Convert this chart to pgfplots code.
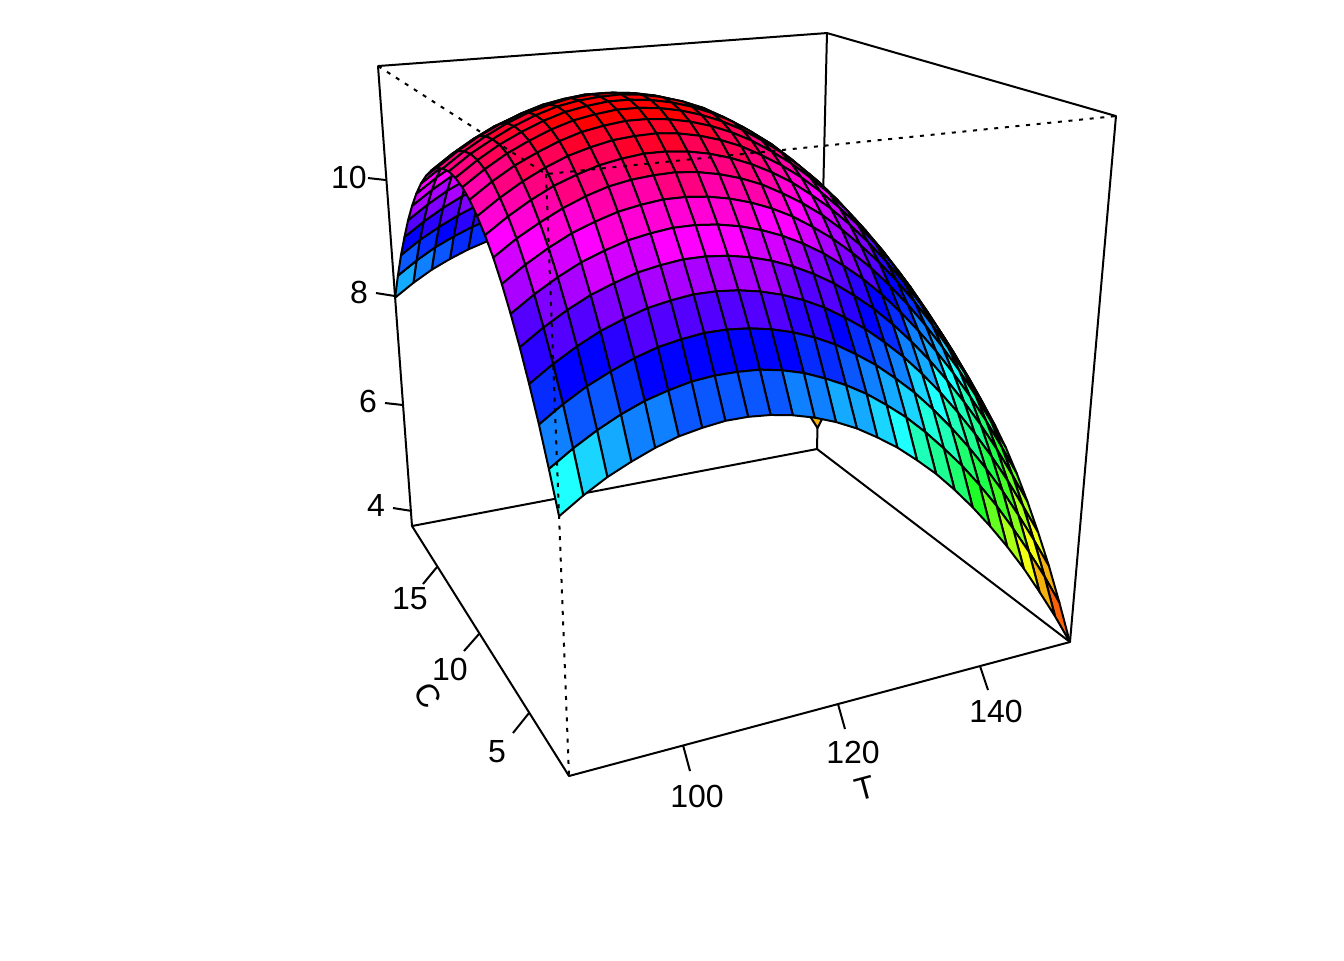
\documentclass[border=0pt]{standalone}
\usepackage{pgfplots}
\usepackage{pgfplotstable}
\usepackage{fontspec}
\setmainfont{Liberation Sans}
\pgfplotsset{compat=1.18}
% T, C and response Z; box limits T 86.4-153.6, C 1.6-18.4, Z 3.7-11.88
\pgfplotstableread{
T C Z
153.60 18.40 4.16
153.60 17.73 4.64
153.60 17.06 5.07
153.60 16.38 5.47
153.60 15.71 5.82
153.60 15.04 6.14
153.60 14.37 6.41
153.60 13.70 6.64
153.60 13.02 6.83
153.60 12.35 6.98
153.60 11.68 7.08
153.60 11.01 7.15
153.60 10.34 7.17
153.60 9.66 7.16
153.60 8.99 7.10
153.60 8.32 6.99
153.60 7.65 6.85
153.60 6.98 6.67
153.60 6.30 6.44
153.60 5.63 6.18
153.60 4.96 5.87
153.60 4.29 5.52
153.60 3.62 5.13
153.60 2.94 4.70
153.60 2.27 4.22
153.60 1.60 3.70
150.91 18.40 4.68
150.91 17.73 5.16
150.91 17.06 5.60
150.91 16.38 5.99
150.91 15.71 6.35
150.91 15.04 6.66
150.91 14.37 6.93
150.91 13.70 7.17
150.91 13.02 7.35
150.91 12.35 7.50
150.91 11.68 7.61
150.91 11.01 7.67
150.91 10.34 7.70
150.91 9.66 7.68
150.91 8.99 7.62
150.91 8.32 7.52
150.91 7.65 7.38
150.91 6.98 7.19
150.91 6.30 6.97
150.91 5.63 6.70
150.91 4.96 6.39
150.91 4.29 6.04
150.91 3.62 5.65
150.91 2.94 5.22
150.91 2.27 4.75
150.91 1.60 4.23
148.22 18.40 5.17
148.22 17.73 5.65
148.22 17.06 6.09
148.22 16.38 6.49
148.22 15.71 6.84
148.22 15.04 7.16
148.22 14.37 7.43
148.22 13.70 7.66
148.22 13.02 7.85
148.22 12.35 8.00
148.22 11.68 8.10
148.22 11.01 8.17
148.22 10.34 8.19
148.22 9.66 8.17
148.22 8.99 8.11
148.22 8.32 8.01
148.22 7.65 7.87
148.22 6.98 7.69
148.22 6.30 7.46
148.22 5.63 7.20
148.22 4.96 6.89
148.22 4.29 6.54
148.22 3.62 6.15
148.22 2.94 5.71
148.22 2.27 5.24
148.22 1.60 4.72
145.54 18.40 5.64
145.54 17.73 6.12
145.54 17.06 6.55
145.54 16.38 6.95
145.54 15.71 7.31
145.54 15.04 7.62
145.54 14.37 7.89
145.54 13.70 8.12
145.54 13.02 8.31
145.54 12.35 8.46
145.54 11.68 8.57
145.54 11.01 8.63
145.54 10.34 8.65
145.54 9.66 8.64
145.54 8.99 8.58
145.54 8.32 8.48
145.54 7.65 8.33
145.54 6.98 8.15
145.54 6.30 7.92
145.54 5.63 7.66
145.54 4.96 7.35
145.54 4.29 7.00
145.54 3.62 6.61
145.54 2.94 6.18
145.54 2.27 5.70
145.54 1.60 5.19
142.85 18.40 6.07
142.85 17.73 6.55
142.85 17.06 6.99
142.85 16.38 7.38
142.85 15.71 7.74
142.85 15.04 8.05
142.85 14.37 8.32
142.85 13.70 8.56
142.85 13.02 8.74
142.85 12.35 8.89
142.85 11.68 9.00
142.85 11.01 9.06
142.85 10.34 9.09
142.85 9.66 9.07
142.85 8.99 9.01
142.85 8.32 8.91
142.85 7.65 8.77
142.85 6.98 8.58
142.85 6.30 8.36
142.85 5.63 8.09
142.85 4.96 7.78
142.85 4.29 7.43
142.85 3.62 7.04
142.85 2.94 6.61
142.85 2.27 6.14
142.85 1.60 5.62
140.16 18.40 6.47
140.16 17.73 6.95
140.16 17.06 7.39
140.16 16.38 7.78
140.16 15.71 8.14
140.16 15.04 8.45
140.16 14.37 8.72
140.16 13.70 8.96
140.16 13.02 9.14
140.16 12.35 9.29
140.16 11.68 9.40
140.16 11.01 9.46
140.16 10.34 9.49
140.16 9.66 9.47
140.16 8.99 9.41
140.16 8.32 9.31
140.16 7.65 9.17
140.16 6.98 8.98
140.16 6.30 8.76
140.16 5.63 8.49
140.16 4.96 8.18
140.16 4.29 7.83
140.16 3.62 7.44
140.16 2.94 7.01
140.16 2.27 6.54
140.16 1.60 6.02
137.47 18.40 6.84
137.47 17.73 7.32
137.47 17.06 7.76
137.47 16.38 8.15
137.47 15.71 8.51
137.47 15.04 8.82
137.47 14.37 9.09
137.47 13.70 9.33
137.47 13.02 9.51
137.47 12.35 9.66
137.47 11.68 9.77
137.47 11.01 9.83
137.47 10.34 9.86
137.47 9.66 9.84
137.47 8.99 9.78
137.47 8.32 9.68
137.47 7.65 9.54
137.47 6.98 9.35
137.47 6.30 9.13
137.47 5.63 8.86
137.47 4.96 8.55
137.47 4.29 8.20
137.47 3.62 7.81
137.47 2.94 7.38
137.47 2.27 6.91
137.47 1.60 6.39
134.78 18.40 7.18
134.78 17.73 7.66
134.78 17.06 8.10
134.78 16.38 8.49
134.78 15.71 8.85
134.78 15.04 9.16
134.78 14.37 9.43
134.78 13.70 9.66
134.78 13.02 9.85
134.78 12.35 10.00
134.78 11.68 10.11
134.78 11.01 10.17
134.78 10.34 10.20
134.78 9.66 10.18
134.78 8.99 10.12
134.78 8.32 10.02
134.78 7.65 9.88
134.78 6.98 9.69
134.78 6.30 9.47
134.78 5.63 9.20
134.78 4.96 8.89
134.78 4.29 8.54
134.78 3.62 8.15
134.78 2.94 7.72
134.78 2.27 7.24
134.78 1.60 6.73
132.10 18.40 7.49
132.10 17.73 7.97
132.10 17.06 8.40
132.10 16.38 8.80
132.10 15.71 9.16
132.10 15.04 9.47
132.10 14.37 9.74
132.10 13.70 9.97
132.10 13.02 10.16
132.10 12.35 10.31
132.10 11.68 10.42
132.10 11.01 10.48
132.10 10.34 10.50
132.10 9.66 10.49
132.10 8.99 10.43
132.10 8.32 10.33
132.10 7.65 10.18
132.10 6.98 10.00
132.10 6.30 9.77
132.10 5.63 9.51
132.10 4.96 9.20
132.10 4.29 8.85
132.10 3.62 8.46
132.10 2.94 8.03
132.10 2.27 7.55
132.10 1.60 7.04
129.41 18.40 7.76
129.41 17.73 8.24
129.41 17.06 8.68
129.41 16.38 9.08
129.41 15.71 9.43
129.41 15.04 9.75
129.41 14.37 10.02
129.41 13.70 10.25
129.41 13.02 10.44
129.41 12.35 10.59
129.41 11.68 10.69
129.41 11.01 10.76
129.41 10.34 10.78
129.41 9.66 10.76
129.41 8.99 10.70
129.41 8.32 10.60
129.41 7.65 10.46
129.41 6.98 10.28
129.41 6.30 10.05
129.41 5.63 9.78
129.41 4.96 9.48
129.41 4.29 9.13
129.41 3.62 8.73
129.41 2.94 8.30
129.41 2.27 7.83
129.41 1.60 7.31
126.72 18.40 8.01
126.72 17.73 8.49
126.72 17.06 8.93
126.72 16.38 9.32
126.72 15.71 9.68
126.72 15.04 9.99
126.72 14.37 10.26
126.72 13.70 10.49
126.72 13.02 10.68
126.72 12.35 10.83
126.72 11.68 10.94
126.72 11.01 11.00
126.72 10.34 11.03
126.72 9.66 11.01
126.72 8.99 10.95
126.72 8.32 10.85
126.72 7.65 10.71
126.72 6.98 10.52
126.72 6.30 10.30
126.72 5.63 10.03
126.72 4.96 9.72
126.72 4.29 9.37
126.72 3.62 8.98
126.72 2.94 8.55
126.72 2.27 8.07
126.72 1.60 7.56
124.03 18.40 8.22
124.03 17.73 8.70
124.03 17.06 9.14
124.03 16.38 9.54
124.03 15.71 9.89
124.03 15.04 10.21
124.03 14.37 10.48
124.03 13.70 10.71
124.03 13.02 10.90
124.03 12.35 11.05
124.03 11.68 11.15
124.03 11.01 11.22
124.03 10.34 11.24
124.03 9.66 11.22
124.03 8.99 11.16
124.03 8.32 11.06
124.03 7.65 10.92
124.03 6.98 10.74
124.03 6.30 10.51
124.03 5.63 10.24
124.03 4.96 9.94
124.03 4.29 9.59
124.03 3.62 9.19
124.03 2.94 8.76
124.03 2.27 8.29
124.03 1.60 7.77
121.34 18.40 8.41
121.34 17.73 8.89
121.34 17.06 9.32
121.34 16.38 9.72
121.34 15.71 10.08
121.34 15.04 10.39
121.34 14.37 10.66
121.34 13.70 10.89
121.34 13.02 11.08
121.34 12.35 11.23
121.34 11.68 11.34
121.34 11.01 11.40
121.34 10.34 11.42
121.34 9.66 11.41
121.34 8.99 11.35
121.34 8.32 11.25
121.34 7.65 11.10
121.34 6.98 10.92
121.34 6.30 10.69
121.34 5.63 10.43
121.34 4.96 10.12
121.34 4.29 9.77
121.34 3.62 9.38
121.34 2.94 8.95
121.34 2.27 8.47
121.34 1.60 7.96
118.66 18.40 8.56
118.66 17.73 9.04
118.66 17.06 9.48
118.66 16.38 9.87
118.66 15.71 10.23
118.66 15.04 10.54
118.66 14.37 10.81
118.66 13.70 11.04
118.66 13.02 11.23
118.66 12.35 11.38
118.66 11.68 11.49
118.66 11.01 11.55
118.66 10.34 11.58
118.66 9.66 11.56
118.66 8.99 11.50
118.66 8.32 11.40
118.66 7.65 11.26
118.66 6.98 11.07
118.66 6.30 10.85
118.66 5.63 10.58
118.66 4.96 10.27
118.66 4.29 9.92
118.66 3.62 9.53
118.66 2.94 9.10
118.66 2.27 8.62
118.66 1.60 8.11
115.97 18.40 8.68
115.97 17.73 9.16
115.97 17.06 9.60
115.97 16.38 9.99
115.97 15.71 10.35
115.97 15.04 10.66
115.97 14.37 10.94
115.97 13.70 11.17
115.97 13.02 11.36
115.97 12.35 11.50
115.97 11.68 11.61
115.97 11.01 11.67
115.97 10.34 11.70
115.97 9.66 11.68
115.97 8.99 11.62
115.97 8.32 11.52
115.97 7.65 11.38
115.97 6.98 11.19
115.97 6.30 10.97
115.97 5.63 10.70
115.97 4.96 10.39
115.97 4.29 10.04
115.97 3.62 9.65
115.97 2.94 9.22
115.97 2.27 8.75
115.97 1.60 8.23
113.28 18.40 8.77
113.28 17.73 9.25
113.28 17.06 9.69
113.28 16.38 10.08
113.28 15.71 10.44
113.28 15.04 10.75
113.28 14.37 11.03
113.28 13.70 11.26
113.28 13.02 11.45
113.28 12.35 11.59
113.28 11.68 11.70
113.28 11.01 11.76
113.28 10.34 11.79
113.28 9.66 11.77
113.28 8.99 11.71
113.28 8.32 11.61
113.28 7.65 11.47
113.28 6.98 11.28
113.28 6.30 11.06
113.28 5.63 10.79
113.28 4.96 10.48
113.28 4.29 10.13
113.28 3.62 9.74
113.28 2.94 9.31
113.28 2.27 8.84
113.28 1.60 8.32
110.59 18.40 8.83
110.59 17.73 9.31
110.59 17.06 9.75
110.59 16.38 10.14
110.59 15.71 10.50
110.59 15.04 10.81
110.59 14.37 11.09
110.59 13.70 11.32
110.59 13.02 11.51
110.59 12.35 11.65
110.59 11.68 11.76
110.59 11.01 11.82
110.59 10.34 11.85
110.59 9.66 11.83
110.59 8.99 11.77
110.59 8.32 11.67
110.59 7.65 11.53
110.59 6.98 11.34
110.59 6.30 11.12
110.59 5.63 10.85
110.59 4.96 10.54
110.59 4.29 10.19
110.59 3.62 9.80
110.59 2.94 9.37
110.59 2.27 8.90
110.59 1.60 8.38
107.90 18.40 8.86
107.90 17.73 9.34
107.90 17.06 9.78
107.90 16.38 10.17
107.90 15.71 10.53
107.90 15.04 10.84
107.90 14.37 11.11
107.90 13.70 11.34
107.90 13.02 11.53
107.90 12.35 11.68
107.90 11.68 11.79
107.90 11.01 11.85
107.90 10.34 11.88
107.90 9.66 11.86
107.90 8.99 11.80
107.90 8.32 11.70
107.90 7.65 11.56
107.90 6.98 11.37
107.90 6.30 11.15
107.90 5.63 10.88
107.90 4.96 10.57
107.90 4.29 10.22
107.90 3.62 9.83
107.90 2.94 9.40
107.90 2.27 8.92
107.90 1.60 8.41
105.22 18.40 8.86
105.22 17.73 9.34
105.22 17.06 9.77
105.22 16.38 10.17
105.22 15.71 10.53
105.22 15.04 10.84
105.22 14.37 11.11
105.22 13.70 11.34
105.22 13.02 11.53
105.22 12.35 11.68
105.22 11.68 11.79
105.22 11.01 11.85
105.22 10.34 11.87
105.22 9.66 11.86
105.22 8.99 11.80
105.22 8.32 11.70
105.22 7.65 11.55
105.22 6.98 11.37
105.22 6.30 11.14
105.22 5.63 10.88
105.22 4.96 10.57
105.22 4.29 10.22
105.22 3.62 9.83
105.22 2.94 9.40
105.22 2.27 8.92
105.22 1.60 8.41
102.53 18.40 8.82
102.53 17.73 9.30
102.53 17.06 9.74
102.53 16.38 10.14
102.53 15.71 10.49
102.53 15.04 10.80
102.53 14.37 11.08
102.53 13.70 11.31
102.53 13.02 11.50
102.53 12.35 11.64
102.53 11.68 11.75
102.53 11.01 11.82
102.53 10.34 11.84
102.53 9.66 11.82
102.53 8.99 11.76
102.53 8.32 11.66
102.53 7.65 11.52
102.53 6.98 11.33
102.53 6.30 11.11
102.53 5.63 10.84
102.53 4.96 10.53
102.53 4.29 10.18
102.53 3.62 9.79
102.53 2.94 9.36
102.53 2.27 8.89
102.53 1.60 8.37
99.84 18.40 8.76
99.84 17.73 9.24
99.84 17.06 9.68
99.84 16.38 10.07
99.84 15.71 10.43
99.84 15.04 10.74
99.84 14.37 11.01
99.84 13.70 11.24
99.84 13.02 11.43
99.84 12.35 11.58
99.84 11.68 11.69
99.84 11.01 11.75
99.84 10.34 11.78
99.84 9.66 11.76
99.84 8.99 11.70
99.84 8.32 11.60
99.84 7.65 11.45
99.84 6.98 11.27
99.84 6.30 11.05
99.84 5.63 10.78
99.84 4.96 10.47
99.84 4.29 10.12
99.84 3.62 9.73
99.84 2.94 9.30
99.84 2.27 8.82
99.84 1.60 8.31
97.15 18.40 8.66
97.15 17.73 9.14
97.15 17.06 9.58
97.15 16.38 9.98
97.15 15.71 10.33
97.15 15.04 10.64
97.15 14.37 10.92
97.15 13.70 11.15
97.15 13.02 11.34
97.15 12.35 11.48
97.15 11.68 11.59
97.15 11.01 11.66
97.15 10.34 11.68
97.15 9.66 11.66
97.15 8.99 11.60
97.15 8.32 11.50
97.15 7.65 11.36
97.15 6.98 11.17
97.15 6.30 10.95
97.15 5.63 10.68
97.15 4.96 10.37
97.15 4.29 10.02
97.15 3.62 9.63
97.15 2.94 9.20
97.15 2.27 8.73
97.15 1.60 8.21
94.46 18.40 8.53
94.46 17.73 9.01
94.46 17.06 9.45
94.46 16.38 9.85
94.46 15.71 10.20
94.46 15.04 10.52
94.46 14.37 10.79
94.46 13.70 11.02
94.46 13.02 11.21
94.46 12.35 11.36
94.46 11.68 11.46
94.46 11.01 11.53
94.46 10.34 11.55
94.46 9.66 11.53
94.46 8.99 11.47
94.46 8.32 11.37
94.46 7.65 11.23
94.46 6.98 11.05
94.46 6.30 10.82
94.46 5.63 10.56
94.46 4.96 10.25
94.46 4.29 9.90
94.46 3.62 9.51
94.46 2.94 9.07
94.46 2.27 8.60
94.46 1.60 8.08
91.78 18.40 8.38
91.78 17.73 8.86
91.78 17.06 9.29
91.78 16.38 9.69
91.78 15.71 10.05
91.78 15.04 10.36
91.78 14.37 10.63
91.78 13.70 10.86
91.78 13.02 11.05
91.78 12.35 11.20
91.78 11.68 11.31
91.78 11.01 11.37
91.78 10.34 11.39
91.78 9.66 11.38
91.78 8.99 11.32
91.78 8.32 11.22
91.78 7.65 11.07
91.78 6.98 10.89
91.78 6.30 10.66
91.78 5.63 10.40
91.78 4.96 10.09
91.78 4.29 9.74
91.78 3.62 9.35
91.78 2.94 8.92
91.78 2.27 8.44
91.78 1.60 7.93
89.09 18.40 8.19
89.09 17.73 8.67
89.09 17.06 9.11
89.09 16.38 9.50
89.09 15.71 9.86
89.09 15.04 10.17
89.09 14.37 10.44
89.09 13.70 10.67
89.09 13.02 10.86
89.09 12.35 11.01
89.09 11.68 11.12
89.09 11.01 11.18
89.09 10.34 11.21
89.09 9.66 11.19
89.09 8.99 11.13
89.09 8.32 11.03
89.09 7.65 10.88
89.09 6.98 10.70
89.09 6.30 10.48
89.09 5.63 10.21
89.09 4.96 9.90
89.09 4.29 9.55
89.09 3.62 9.16
89.09 2.94 8.73
89.09 2.27 8.25
89.09 1.60 7.74
86.40 18.40 7.97
86.40 17.73 8.45
86.40 17.06 8.89
86.40 16.38 9.28
86.40 15.71 9.64
86.40 15.04 9.95
86.40 14.37 10.22
86.40 13.70 10.45
86.40 13.02 10.64
86.40 12.35 10.79
86.40 11.68 10.90
86.40 11.01 10.96
86.40 10.34 10.99
86.40 9.66 10.97
86.40 8.99 10.91
86.40 8.32 10.81
86.40 7.65 10.66
86.40 6.98 10.48
86.40 6.30 10.26
86.40 5.63 9.99
86.40 4.96 9.68
86.40 4.29 9.33
86.40 3.62 8.94
86.40 2.94 8.51
86.40 2.27 8.03
86.40 1.60 7.52
}\surfacedata
\newcommand\U{((\thisrow{T}-86.4)/67.2)}
\newcommand\V{((\thisrow{C}-1.6)/16.8)}
\newcommand\W{((\thisrow{Z}-3.7)/8.18)}
\newcommand\D{(1+.1608*\U+.3369*\V-.134*\W)}
\pgfplotsset{
  colormap={rb}{rgb255=(255,20,0) rgb255=(240,255,20) rgb255=(30,255,40) rgb255=(30,255,255) rgb255=(0,0,255) rgb255=(255,0,255) rgb255=(255,0,0)},
  colormap={rbq}{samples of colormap=(37 of rb)},
}
\begin{document}
\begin{tikzpicture}[x=1pt,y=1pt]
\path[use as bounding box] (0,0) rectangle (672,480);
\begin{axis}[
  at={(0pt,0pt)}, anchor=south west,
  scale only axis, width=672pt, height=480pt,
  xmin=0, xmax=1344, ymin=0, ymax=960, zmin=0, zmax=1,
  view={0}{90}, hide axis, clip=false,
  colormap name=rbq, colormap access=piecewise constant,
  point meta min=3.7, point meta max=11.88,
  every axis plot/.append style={black, line width=1pt, line join=round},
]
% back edges of the box
\addplot3[no marks] coordinates {(412,434,0)(817,511,0)(1070,318,0)};
\addplot3[no marks] coordinates {(817,511,0)(827,927,0)};
% surface, far facets first
\addplot3[surf, shader=faceted, faceted color=black, z buffer=none, mesh/rows=26, mesh/cols=26,
  line width=1pt, point meta=\thisrow{Z}]
  table[x expr={(569+672.9*\U-18.2*\V-96.2*\W)/\D},
        y expr={960-(776-30.7*\U-72.4*\V-625.4*\W)/\D},
        z expr=0] {\surfacedata};
% solid box edges
\addplot3[no marks] coordinates {(412,434,0)(569,184,0)(1070,318,0)(1116,844,0)(827,927,0)(378,894,0)(412,434,0)};
% dotted edges
\addplot3[no marks, line cap=butt, dash pattern=on 2pt off 3.33pt] coordinates {(378,894,0)(546,786,0)(1116,844,0)};
\addplot3[no marks, line cap=butt, dash pattern=on 2pt off 3.33pt] coordinates {(546,786,0)(569,184,0)};
% ticks
\addplot3[no marks] coordinates {(412,449,0)(393,452,0)};
\addplot3[no marks] coordinates {(403,555,0)(385,557,0)};
\addplot3[no marks] coordinates {(395,664,0)(376,667,0)};
\addplot3[no marks] coordinates {(386,780,0)(368,782,0)};
\addplot3[no marks] coordinates {(683,215,0)(690,189,0)};
\addplot3[no marks] coordinates {(838,256,0)(845,231,0)};
\addplot3[no marks] coordinates {(980,294,0)(988,270,0)};
\addplot3[no marks] coordinates {(529,247,0)(513,227,0)};
\addplot3[no marks] coordinates {(479,326,0)(464,309,0)};
\addplot3[no marks] coordinates {(437,393,0)(423,376,0)};
% labels
\tikzset{lab/.style={inner sep=0pt, font=\fontsize{16}{18}\selectfont, text=black}}
\node[lab] at (axis cs:376,455,0) {4};
\node[lab] at (axis cs:368,559,0) {6};
\node[lab] at (axis cs:359,668,0) {8};
\node[lab] at (axis cs:349,783,0) {10};
\node[lab] at (axis cs:697,164,0) {100};
\node[lab] at (axis cs:853,208,0) {120};
\node[lab] at (axis cs:996,249,0) {140};
\node[lab] at (axis cs:497,208,0) {5};
\node[lab] at (axis cs:450,291,0) {10};
\node[lab] at (axis cs:410,361,0) {15};
\node[lab, rotate=15] at (axis cs:865,172,0) {T};
\node[lab, rotate=-58] at (axis cs:428,265,0) {C};
\end{axis}
\end{tikzpicture}
\end{document}
